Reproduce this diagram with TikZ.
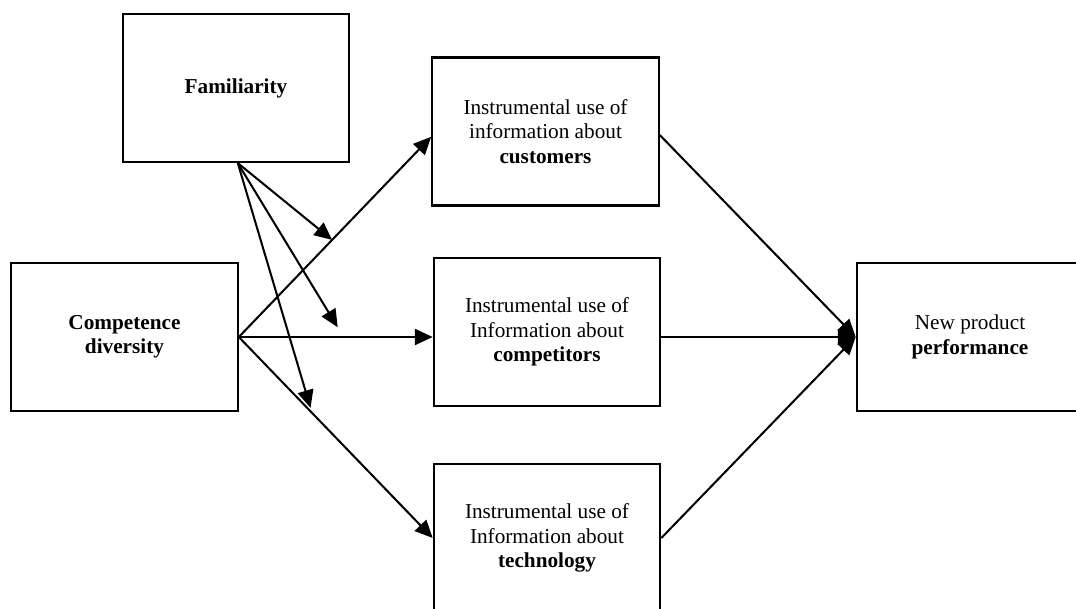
\documentclass[tikz,border=0pt,12pt]{standalone}
\usepackage{fontspec}
\setmainfont{Liberation Serif}
\usetikzlibrary{arrows.meta}

\begin{document}
\begin{tikzpicture}[x=0.565pt,y=-0.565pt]
            \tikzset{box/.style={draw,line width=1.2pt,minimum width=128pt,minimum height=83.6pt,
                inner sep=0pt,align=center,font=\fontsize{12}{13.8}\selectfont}};
            \tikzset{line/.style={line width=1.15pt,-{Triangle[length=10pt,width=9pt]}}};
            \useasboundingbox (0,0) rectangle (1076,608);

            \node[box] (fam) at (236,88) {\textbf{Familiarity}};
            \node[box] (div) at (124.5,337) {\textbf{Competence}\\\textbf{diversity}};

            \node[box] (cust) at (545.5,131.5) {Instrumental use of\\information about\\\textbf{customers}};
            \node[box] (cmpt) at (547,332) {Instrumental use of\\Information about\\\textbf{competitors}};
            \node[box] (tech) at (547,538) {Instrumental use of\\Information about\\\textbf{technology}};

            \node[box] (perf) at (970,337) {New product\\\textbf{performance}};

            % competence diversity to the three uses of information
            \draw[line] (div.east) -- coordinate[pos=0.485] (m1) ([yshift=-3pt]cust.west);
            \draw[line] (div.east) -- coordinate[pos=0.51] (m2) (div.east -| cmpt.west);
            \draw[line] (div.east) -- coordinate[pos=0.37] (m3) (tech.west);

            % familiarity moderates the links
            \draw[line] ([xshift=1pt]fam.south) -- (m1);
            \draw[line] ([xshift=1pt]fam.south) -- ([yshift=5.5pt]m2);
            \draw[line] ([xshift=1pt]fam.south) -- ([yshift=2pt]m3);

            % uses of information to performance
            \draw[line] ([yshift=-2pt]cust.east) -- (perf.west);
            \draw[line] (cmpt.east |- perf.west) -- (perf.west);
            \draw[line] (tech.east) -- (perf.west);
        \end{tikzpicture}
\end{document}
